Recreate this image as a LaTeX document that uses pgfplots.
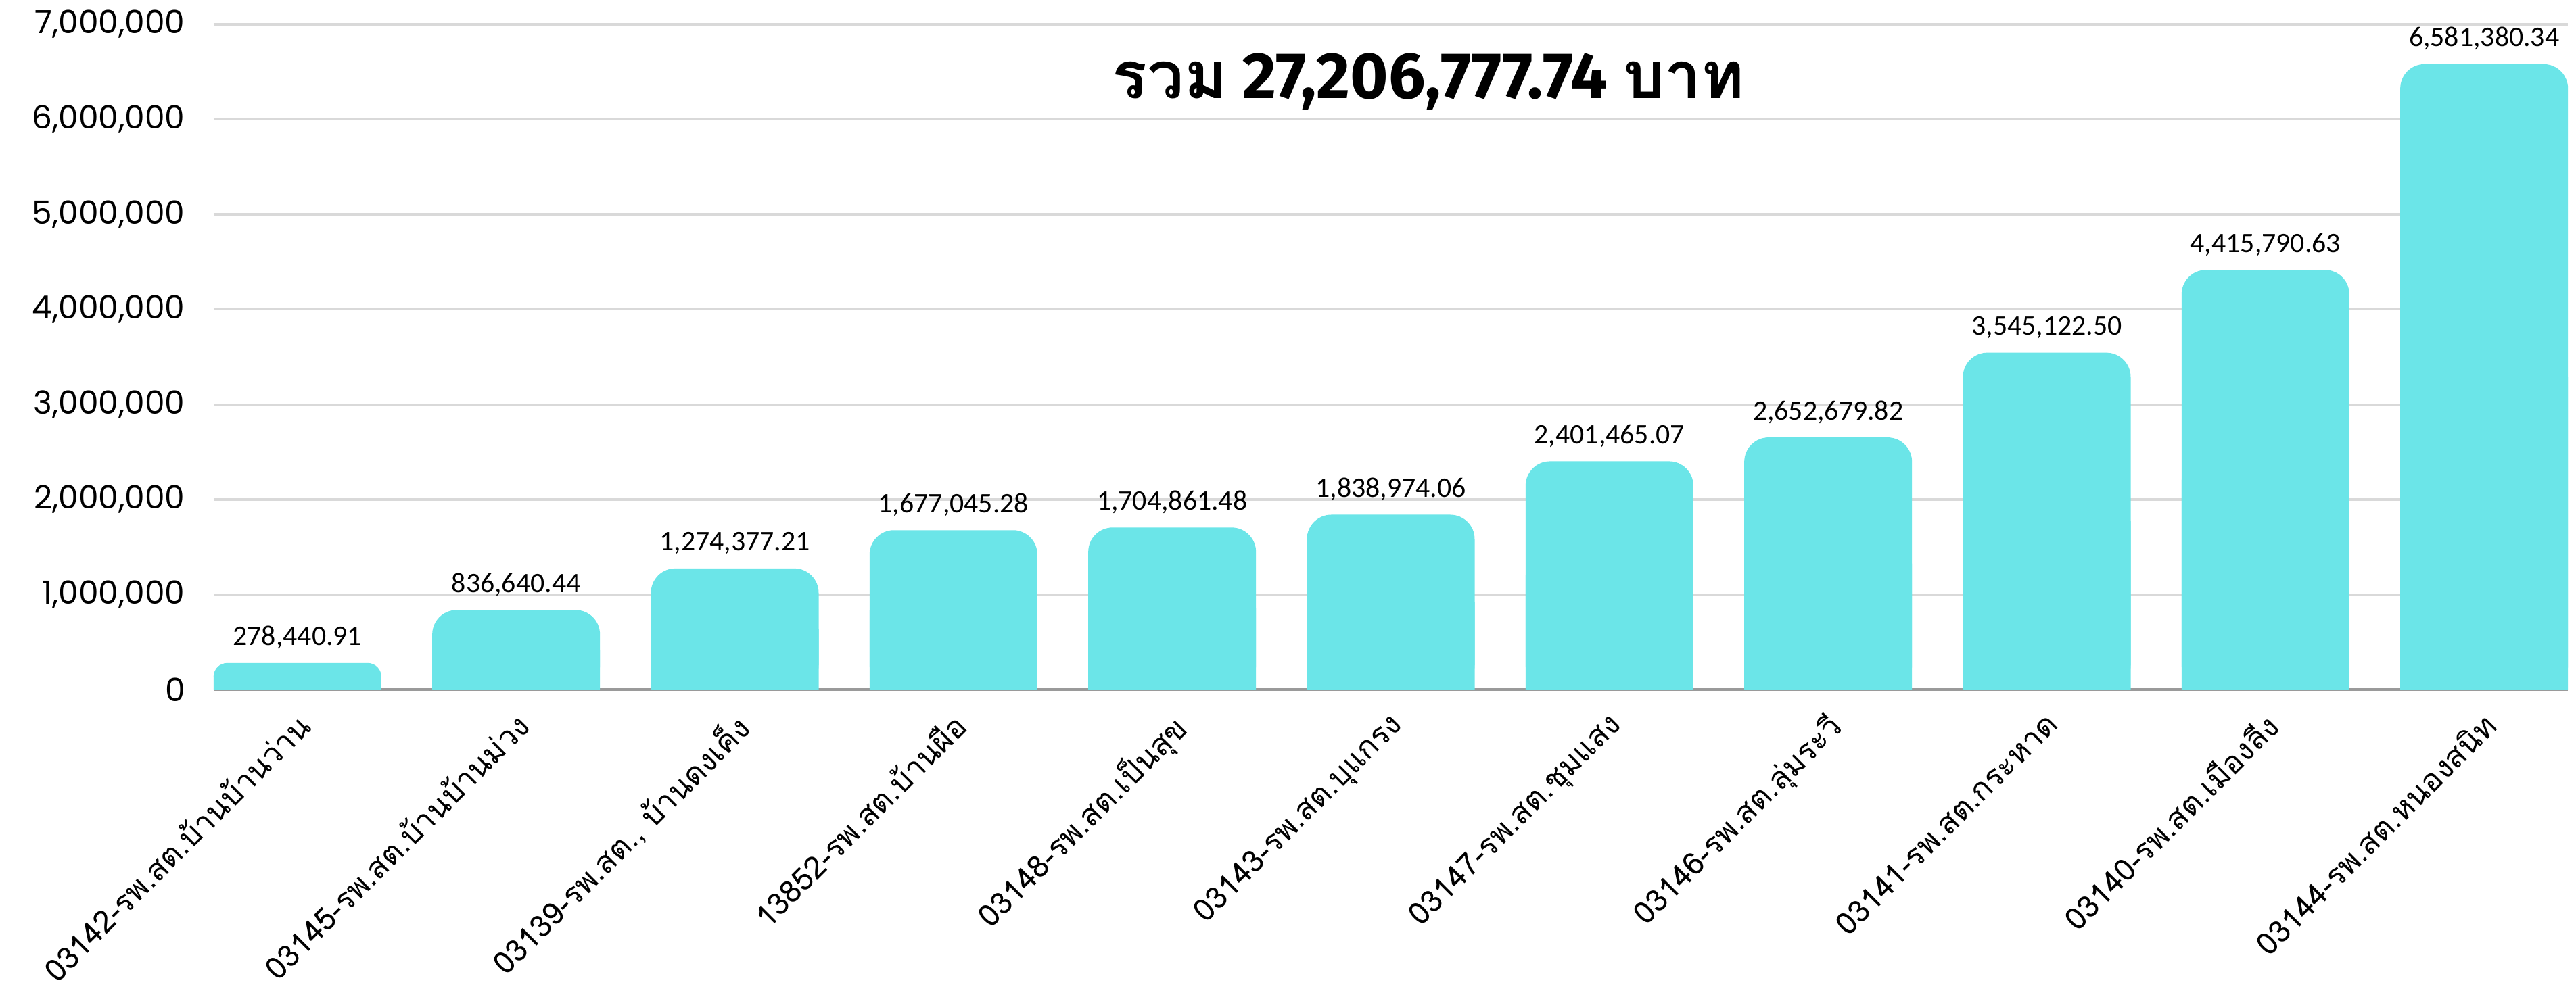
\documentclass[border=0pt]{standalone}
\usepackage{fontspec}
\usepackage{pgfplots}
\pgfplotsset{compat=1.18}
\setmainfont{Poppins}
\newfontfamily\thaifont[Script=Thai]{Loma}
\newfontfamily\datafont{Carlito}
\newfontfamily\titlefont{Fira Sans}
\definecolor{barcyan}{HTML}{6BE5E8}
\definecolor{gridgray}{HTML}{D9D9D9}
\definecolor{basegray}{HTML}{9A9A9A}

\pgfplotsset{
  valbar/.style={ybar, bar width=2.48cm, fill=barcyan, draw=none,
    point meta=explicit symbolic,
    nodes near coords,
    nodes near coords style={font=\datafont\fontsize{11.9}{14}\selectfont, text=black,
      anchor=south, inner sep=0pt, yshift=0.2cm, sharp corners}},
}

\begin{document}
\begin{tikzpicture}
  \useasboundingbox (-3.16,-4.46) rectangle (34.93,10.20);
  \begin{axis}[
    at={(0,0)}, anchor=south west,
    width=34.81cm, height=9.84cm, scale only axis,
    xmin=-0.383, xmax=10.383, ymin=0, ymax=7000000,
    enlargelimits=false,
    separate axis lines,
    axis x line*=bottom, axis y line*=left,
    x axis line style={basegray, line width=1.2pt, -},
    y axis line style={draw=none},
    major tick length=0pt,
    ymajorgrids, grid style={gridgray, line width=1pt},
    ytick={0,1000000,2000000,3000000,4000000,5000000,6000000,7000000},
    scaled y ticks=false,
    yticklabel style={font=\fontsize{13.4}{16}\selectfont, anchor=east, xshift=-0.3cm,
      /pgf/number format/.cd, fixed, 1000 sep={,}, assume math mode=true},
    xtick={0,1,2,3,4,5,6,7,8,9,10},
    xticklabels={
      03142-รพ.สต.บ้านบ้านว่าน,
      03145-รพ.สต.บ้านบ้านม่วง,
      {03139-รพ.สต., บ้านดงเค็ง},
      13852-รพ.สต.บ้านผือ,
      03148-รพ.สต.เป็นสุข,
      03143-รพ.สต.บุแกรง,
      03147-รพ.สต.ชุมแสง,
      03146-รพ.สต.ลุ่มระวี,
      03141-รพ.สต.กระหาด,
      03140-รพ.สต.เมืองลีง,
      03144-รพ.สต.หนองสนิท},
    xticklabel style={font=\thaifont\fontsize{13}{15}\selectfont,
      xshift=-0.04cm, yshift=-0.30cm, rotate=45,
      anchor=north east, inner sep=0pt},
  ]
    % first bar is short: smaller corner radius
    \addplot[valbar, rounded corners=0.2cm] table[x=x, y=y, meta=lab] {
x y lab
0 278440.91 278,440.91
};
    % the other bars, rounded tops
    \addplot[valbar, rounded corners=0.36cm] table[x=x, y=y, meta=lab] {
x y lab
1 836640.44 836,640.44
2 1274377.21 1,274,377.21
3 1677045.28 1,677,045.28
4 1704861.48 1,704,861.48
5 1838974.06 1,838,974.06
6 2401465.07 2,401,465.07
7 2652679.82 2,652,679.82
8 3545122.50 3,545,122.50
9 4415790.63 4,415,790.63
10 6581380.34 6,581,380.34
};
    % square lower half, hides the rounded bottom corners
    \addplot[ybar, bar width=2.48cm, fill=barcyan, draw=none,
      y filter/.expression={y/2}]
      table[x=x, y=y] {
x y
0 278440.91
1 836640.44
2 1274377.21
3 1677045.28
4 1704861.48
5 1838974.06
6 2401465.07
7 2652679.82
8 3545122.50
9 4415790.63
10 6581380.34
};
    \node[font=\titlefont\bfseries\fontsize{27.5}{32}\selectfont]
      at (rel axis cs:0.516,0.914)
      {{\thaifont\bfseries รวม} 27,206,777.74 {\thaifont\bfseries บาท}};
  \end{axis}
\end{tikzpicture}
\end{document}
